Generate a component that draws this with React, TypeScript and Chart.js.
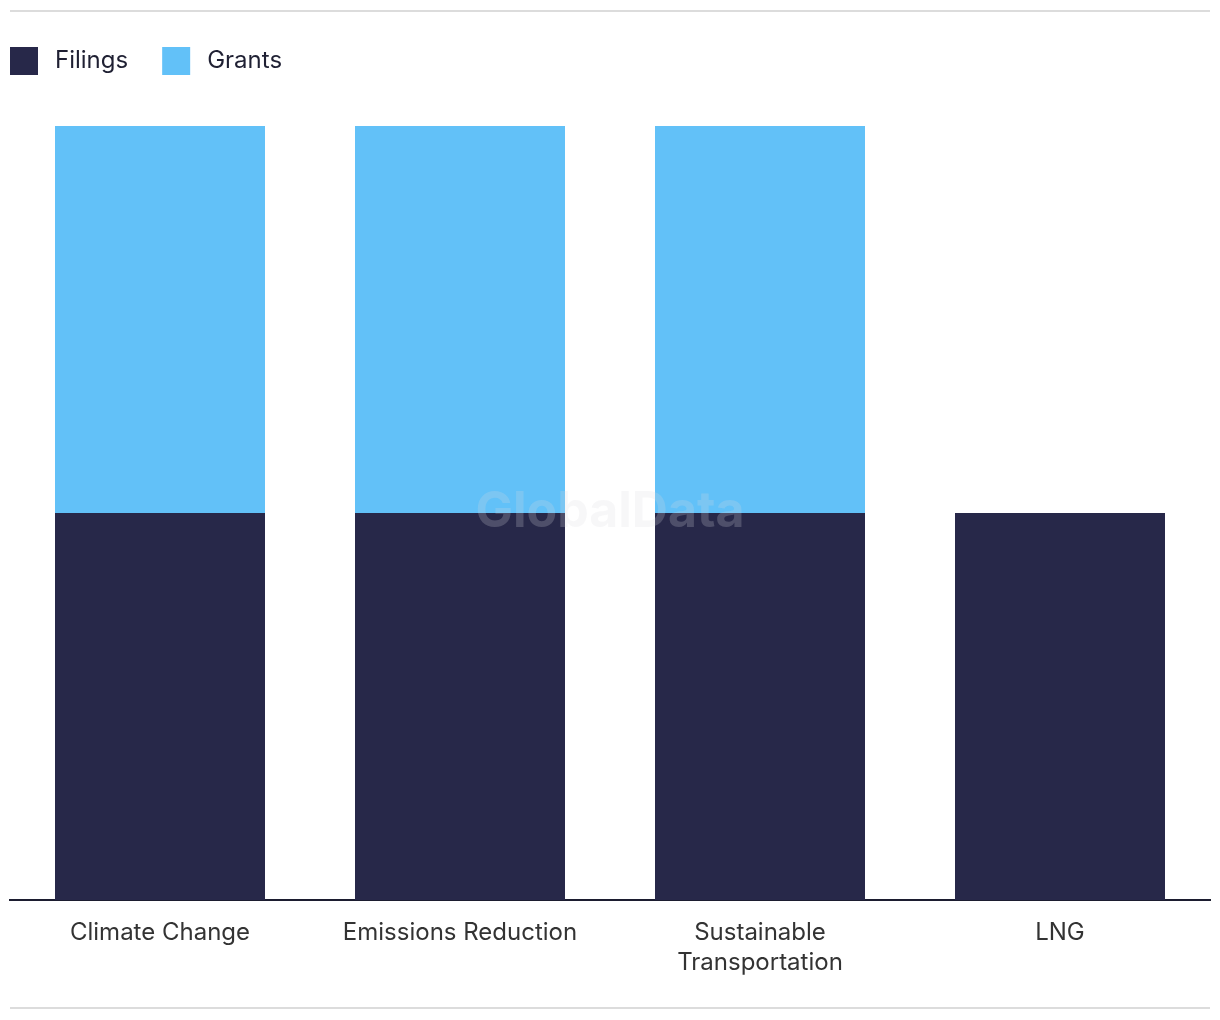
import React, { useEffect, useRef } from "react";
import { Chart, registerables } from "chart.js";

Chart.register(...registerables);

const categories: (string | string[])[] = [
  "Climate Change",
  "Emissions Reduction",
  ["Sustainable", "Transportation"],
  "LNG",
];
const filings = [1, 1, 1, 1];
const grants = [1, 1, 1, 0];
const seriesNames = ["Filings", "Grants"];
const seriesColors = ["#272849", "#62C1F8"];

const FONT = "Inter, 'Noto Sans', Arial, sans-serif";

const framePlugin = {
  id: "frame",
  beforeDraw(chart: any) {
    const ctx = chart.ctx;
    ctx.save();
    ctx.fillStyle = "#ffffff";
    ctx.fillRect(0, 0, chart.width, chart.height);
    ctx.strokeStyle = "#dcdcdc";
    ctx.lineWidth = 2;
    ctx.beginPath();
    ctx.moveTo(10, 11);
    ctx.lineTo(1210, 11);
    ctx.moveTo(10, 1008);
    ctx.lineTo(1210, 1008);
    ctx.stroke();
    // legend
    ctx.font = `24px ${FONT}`;
    ctx.textBaseline = "middle";
    ctx.textAlign = "left";
    let x = 10;
    chart.data.datasets.forEach((ds: any) => {
      ctx.fillStyle = ds.backgroundColor;
      ctx.fillRect(x, 47, 28, 28);
      ctx.fillStyle = "#1f2033";
      ctx.fillText(ds.label, x + 45, 61);
      x += 45 + ctx.measureText(ds.label).width + 34;
    });
    ctx.restore();
  },
  afterDatasetsDraw(chart: any) {
    const ctx = chart.ctx;
    ctx.save();
    ctx.font = `bold 50px ${FONT}`;
    ctx.textAlign = "center";
    ctx.textBaseline = "middle";
    ctx.fillStyle = "rgba(220,220,225,0.22)";
    ctx.fillText("GlobalData", 610, 512);
    ctx.restore();
  },
};

export default function App() {
  const ref = useRef<HTMLCanvasElement | null>(null);
  useEffect(() => {
    if (!ref.current) return;
    const chart = new Chart(ref.current, {
      type: "bar",
      data: {
        labels: categories,
        datasets: [
          { label: seriesNames[0], data: filings, backgroundColor: seriesColors[0] },
          { label: seriesNames[1], data: grants, backgroundColor: seriesColors[1] },
        ],
      },
      options: {
        responsive: false,
        animation: false,
        devicePixelRatio: 1,
        layout: { padding: { left: 10, right: 10, top: 126, bottom: 24 } },
        plugins: { legend: { display: false }, tooltip: { enabled: false } },
        datasets: { bar: { barPercentage: 0.7, categoryPercentage: 1 } },
        scales: {
          x: {
            stacked: true,
            grid: { display: false, drawTicks: false },
            border: { display: true, color: "#1c1d30", width: 2 },
            ticks: {
              color: "#333333",
              font: { family: FONT, size: 24, lineHeight: 1.25 },
              padding: 18,
              maxRotation: 0,
              autoSkip: false,
            },
          },
          y: {
            stacked: true,
            display: false,
            min: 0,
            max: 2,
          },
        },
      },
      plugins: [framePlugin],
    });
    return () => chart.destroy();
  }, []);
  return (
    <div style={{ position: "fixed", left: 0, top: 0, width: 1220, height: 1020 }}>
      <canvas ref={ref} width={1220} height={1020} style={{ display: "block" }} />
    </div>
  );
}
